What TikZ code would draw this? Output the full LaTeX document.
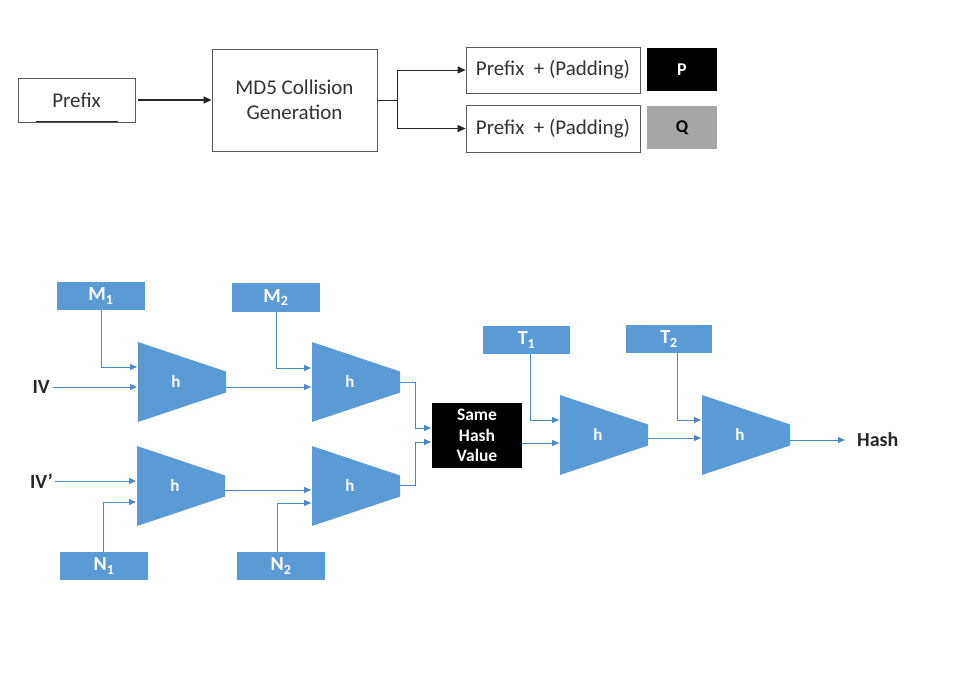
\documentclass[tikz,border=0pt]{standalone}
\usepackage{fontspec}
\setmainfont{Carlito}
\usetikzlibrary{arrows.meta}
\definecolor{hblue}{HTML}{5B9BD5}
\definecolor{lblue}{HTML}{4A88C6}
\definecolor{qgray}{HTML}{A6A6A6}
\newcommand\htrap[3]{%
  \fill[hblue] (#2,#3-40) -- (#2+88,#3-10.5) -- (#2+88,#3+10.5) -- (#2,#3+40) -- cycle;
  \node[hlab] (#1) at (#2+38,#3) {h};
}
\begin{document}
\begin{tikzpicture}[x=1pt,y=-1pt,
  wbox/.style={draw=black!65, line width=0.8pt, fill=white, inner sep=0pt, align=center, text=black!80, font=\fontsize{21}{25}\selectfont},
  bbox/.style={fill=hblue, inner sep=0pt, minimum width=88pt, minimum height=28pt, text=white, font=\fontsize{20}{22}\selectfont\bfseries},
  hlab/.style={text=white, font=\fontsize{17}{19}\selectfont\bfseries, inner sep=0pt},
  ilab/.style={text=black!85, font=\fontsize{20}{22}\selectfont\bfseries, inner sep=1pt},
  barrow/.style={draw=lblue, line width=1pt, -{Triangle[length=7pt,width=6pt]}},
  karrow/.style={draw=black!85, line width=0.9pt, -{Triangle[length=8pt,width=7pt]}},
]
\useasboundingbox[fill=white] (0,0) rectangle (967,679);

% ---------- top part ----------
\node[wbox, minimum width=117pt, minimum height=44pt] (prefix) at (76.5,100) {Prefix};
\draw[line width=1.3pt, black!85] (36,121.3) -- (118,121.3);
\node[wbox, minimum width=165pt, minimum height=102pt] (md5) at (294.5,100) {MD5 Collision\\Generation};
\node[wbox, minimum width=174pt, minimum height=46pt] (pp1) at (553,70) {Prefix~ + (Padding)};
\node[wbox, minimum width=174pt, minimum height=47pt] (pp2) at (553,128.5) {Prefix~ + (Padding)};
\node[fill=black, minimum width=70pt, minimum height=43pt, inner sep=0pt, text=white, font=\fontsize{18}{20}\selectfont\bfseries] (P) at (682,69.5) {P};
\node[fill=qgray, minimum width=70pt, minimum height=43pt, inner sep=0pt, text=black, font=\fontsize{18}{20}\selectfont\bfseries] (Q) at (682,127.5) {Q};

\draw[karrow, line width=1.3pt] (prefix.east) ++(3,0) -- (md5.west);
\coordinate (split) at (397,100);
\draw[draw=black!85, line width=0.9pt] (md5.east) -- (split);
\draw[karrow] (split) |- (pp1.west);
\draw[karrow] (split) |- (pp2.west);

% ---------- bottom part ----------
\node[bbox] (m1) at (101,296) {M\textsubscript{1}};
\node[bbox] (m2) at (276,297.5) {M\textsubscript{2}};
\node[bbox] (n1) at (104,566) {N\textsubscript{1}};
\node[bbox] (n2) at (281,566) {N\textsubscript{2}};
\node[bbox, minimum width=87pt] (t1) at (526.5,340) {T\textsubscript{1}};
\node[bbox, minimum width=86pt] (t2) at (669,339) {T\textsubscript{2}};

\htrap{h1}{138}{382}
\htrap{h2}{312}{382}
\htrap{h3}{137}{486}
\htrap{h4}{312}{486}
\htrap{h5}{560}{435}
\htrap{h6}{702}{435}

\node[ilab, anchor=east] (iv) at (51,387) {IV};
\node[ilab, anchor=east] (ivp) at (54,481) {IV’};
\node[fill=black, minimum width=90pt, minimum height=65pt, inner sep=0pt, align=center, text=white, font=\fontsize{17.5}{20.5}\selectfont\bfseries] (same) at (477,435.5) {Same\\Hash\\Value};
\node[ilab, anchor=west] (hash) at (856,440) {Hash};

% trapezoid ports
\coordinate (h1a) at (137,367); \coordinate (h1b) at (137,387); \coordinate (h1o) at (226,387);
\coordinate (h2a) at (311,368); \coordinate (h2b) at (311,387); \coordinate (h2o) at (400,382);
\coordinate (h3a) at (136,481); \coordinate (h3b) at (136,502); \coordinate (h3o) at (225,490);
\coordinate (h4a) at (311,490); \coordinate (h4b) at (311,503); \coordinate (h4o) at (400,485);
\coordinate (h5a) at (559,420); \coordinate (h5b) at (559,443); \coordinate (h5o) at (648,438);
\coordinate (h6a) at (701,420); \coordinate (h6b) at (701,438); \coordinate (h6o) at (790,440);
\coordinate (sa) at (431,428); \coordinate (sb) at (431,442);
\coordinate (hashin) at (845,440);

\draw[barrow] (m1.south) |- (h1a);
\draw[barrow] (iv.east) ++(2,0) -- (h1b);
\draw[barrow] (h1o) -- (h2b);
\draw[barrow] (m2.south) |- (h2a);
\draw[barrow] (ivp.east) ++(1,0) -- (h3a);
\draw[barrow] ([xshift=-1pt]n1.north) |- (h3b);
\draw[barrow] (h3o) -- (h4a);
\draw[barrow] ([xshift=-4pt]n2.north) |- (h4b);
\draw[barrow] (h2o) -- ++(15,0) |- (sa);
\draw[barrow] (h4o) -- ++(15,0) |- (sb);
\draw[barrow] (same.east |- h5b) -- (h5b);
\draw[barrow] ([xshift=3.5pt]t1.south) |- (h5a);
\draw[barrow] ([xshift=8pt]t2.south) |- (h6a);
\draw[barrow] (h5o) -- (h6b);
\draw[barrow] (h6o) -- (hashin);
\end{tikzpicture}
\end{document}
